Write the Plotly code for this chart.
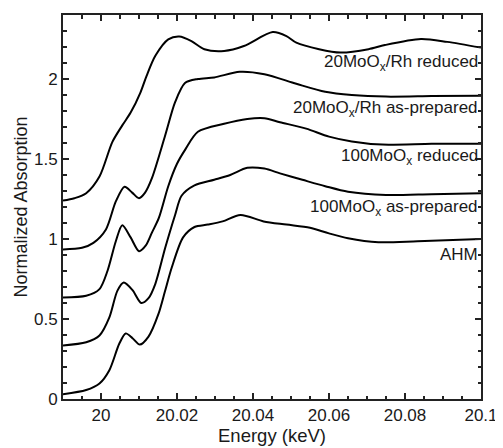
import plotly.graph_objects as go

# Energy (keV) / normalized absorption
x_ahm = [19.99, 19.9961, 19.9996, 20.0022, 20.0048, 20.0065, 20.0083, 20.0102, 20.0125, 20.0151, 20.0168, 20.0186,
         20.0216, 20.0246, 20.0281, 20.0320, 20.0367, 20.0428, 20.0488, 20.0550, 20.0600, 20.0650, 20.0730, 20.0833, 20.1]
y_ahm = [0.03, 0.056, 0.097, 0.18, 0.345, 0.41, 0.38, 0.34, 0.39, 0.53, 0.67, 0.82,
         1.01, 1.075, 1.09, 1.11, 1.15, 1.11, 1.09, 1.07, 1.035, 1.005, 0.98, 0.986, 1.0]

x_100ap = [19.99, 19.9961, 19.9996, 20.0022, 20.0043, 20.0060, 20.0083, 20.0106, 20.0125, 20.0143, 20.0169, 20.0195,
           20.0212, 20.0246, 20.0298, 20.0340, 20.0385, 20.0430, 20.0471, 20.0530, 20.0590, 20.0650, 20.0750, 20.0870, 20.1]
y_100ap = [0.335, 0.355, 0.397, 0.51, 0.676, 0.728, 0.68, 0.60, 0.63, 0.72, 0.945, 1.15,
           1.27, 1.335, 1.37, 1.40, 1.445, 1.44, 1.41, 1.37, 1.33, 1.295, 1.275, 1.28, 1.286]

x_100red = [19.99, 19.9961, 19.9996, 20.0017, 20.0039, 20.0056, 20.0078, 20.0100, 20.0118, 20.0134, 20.0152, 20.0177,
            20.0200, 20.0222, 20.0255, 20.0324, 20.0385, 20.0430, 20.0471, 20.0540, 20.0600, 20.0660, 20.0740, 20.0870, 20.1]
y_100red = [0.635, 0.645, 0.687, 0.80, 0.986, 1.086, 1.01, 0.924, 0.96, 1.04, 1.13, 1.33,
            1.47, 1.56, 1.67, 1.72, 1.75, 1.755, 1.73, 1.69, 1.64, 1.61, 1.59, 1.595, 1.596]

x_20ap = [19.99, 19.995, 19.998, 20.0013, 20.0039, 20.0062, 20.0082, 20.0100, 20.0116, 20.0134, 20.0169, 20.0195,
          20.0221, 20.0255, 20.0298, 20.0365, 20.0430, 20.0514, 20.0590, 20.0660, 20.0750, 20.0870, 20.1]
y_20ap = [0.935, 0.945, 0.976, 1.06, 1.235, 1.327, 1.29, 1.255, 1.29, 1.38, 1.648, 1.855,
          1.975, 2.0, 2.01, 2.045, 2.03, 1.97, 1.92, 1.90, 1.89, 1.893, 1.896]

x_20red = [19.99, 19.993, 19.9961, 19.9996, 20.0030, 20.0056, 20.0078, 20.0104, 20.0120, 20.0143, 20.0177, 20.0206,
           20.0238, 20.0272, 20.0324, 20.0376, 20.0452, 20.0488, 20.0514, 20.0574, 20.0630, 20.0704, 20.0747, 20.0842,
           20.0911, 20.1]
y_20red = [1.24, 1.255, 1.286, 1.39, 1.607, 1.71, 1.79, 1.917, 2.02, 2.145, 2.248, 2.266,
           2.237, 2.186, 2.175, 2.206, 2.293, 2.268, 2.227, 2.186, 2.165, 2.186, 2.212, 2.25,
           2.232, 2.196]

labels = ["20MoO<sub>x</sub>/Rh reduced", "20MoO<sub>x</sub>/Rh as-prepared",
          "100MoO<sub>x</sub> reduced", "100MoO<sub>x</sub> as-prepared", "AHM"]
label_y = [2.09, 1.80, 1.503, 1.183, 0.904]

series = [(x_ahm, y_ahm), (x_100ap, y_100ap), (x_100red, y_100red), (x_20ap, y_20ap), (x_20red, y_20red)]

fig = go.Figure()
for xs, ys in series:
    fig.add_trace(go.Scatter(x=xs, y=ys, mode="lines", line=dict(color="black", width=2, shape="spline", smoothing=0.8),
                             showlegend=False, hoverinfo="skip"))

for t, ly in zip(labels, label_y):
    has_sub = "<sub>" in t
    fig.add_annotation(x=0.998, xref="paper", y=ly, yref="y", text=t, showarrow=False, xanchor="right",
                       yanchor="middle", yshift=2 if has_sub else 0,
                       font=dict(size=17, color="#1a1a1a"))

font = "Arial, Liberation Sans, sans-serif"
fig.update_layout(
    width=495, height=440,
    margin=dict(l=55, r=16, t=5, b=49),
    paper_bgcolor="white", plot_bgcolor="white",
    font=dict(family=font, size=17, color="#1a1a1a"),
    xaxis=dict(range=[19.99, 20.1], dtick=0.02, tick0=20, ticks="inside", ticklen=6, tickwidth=1.5,
               tickcolor="#222", showline=True, linecolor="#222", linewidth=2, mirror="ticks",
               showgrid=False, zeroline=False, ticklabeloverflow="allow",
               minor=dict(dtick=0.005, tick0=20, ticks="inside", ticklen=3.5, tickcolor="#222", showgrid=False),
               title=dict(text="Energy (keV)", font=dict(size=18.5), standoff=0),
               tickfont=dict(size=17)),
    yaxis=dict(range=[0, 2.4], dtick=0.5, tick0=0, ticks="inside", ticklen=6, tickwidth=1.5,
               tickcolor="#222", showline=True, linecolor="#222", linewidth=2, mirror="ticks",
               showgrid=False, zeroline=False,
               minor=dict(dtick=0.1, tick0=0, ticks="inside", ticklen=3.5, tickcolor="#222", showgrid=False),
               title=dict(text="Normalized Absorption", font=dict(size=18), standoff=2),
               tickfont=dict(size=17)),
)

fig.write_html("out.html")
